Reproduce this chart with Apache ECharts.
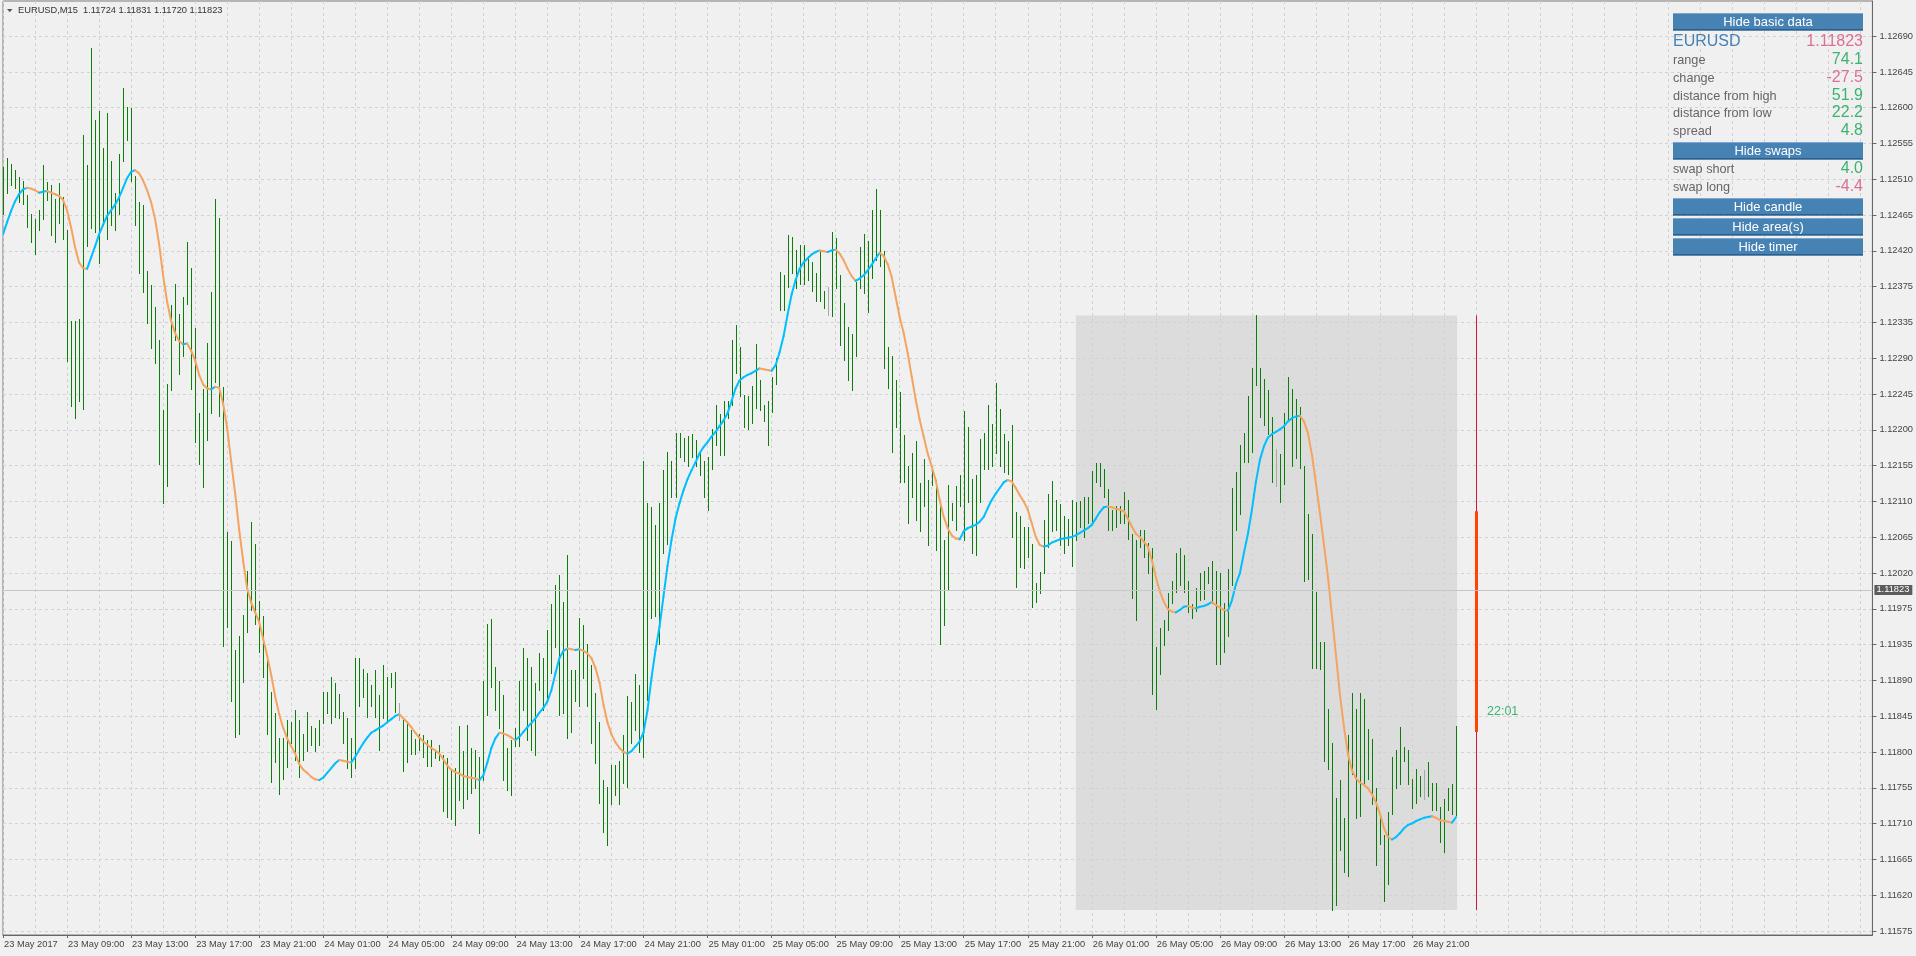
<!DOCTYPE html>
<html><head><meta charset="utf-8">
<script src="https://cdn.jsdelivr.net/npm/echarts@6/dist/echarts.min.js"></script>
<style>html,body{margin:0;padding:0;background:#f0f0f0;}#c{width:1916px;height:956px;}</style>
</head><body><div id="c"></div>
<script>
// ---------------- DATA ----------------
const titleText = 'EURUSD,M15  1.11724 1.11831 1.11720 1.11823';
const xTickLabels = ['23 May 2017','23 May 09:00','23 May 13:00','23 May 17:00','23 May 21:00','24 May 01:00','24 May 05:00','24 May 09:00','24 May 13:00','24 May 17:00','24 May 21:00','25 May 01:00','25 May 05:00','25 May 09:00','25 May 13:00','25 May 17:00','25 May 21:00','26 May 01:00','26 May 05:00','26 May 09:00','26 May 13:00','26 May 17:00','26 May 21:00'];
const yTickLabels = ['1.11575','1.11620','1.11665','1.11710','1.11755','1.11800','1.11845','1.11890','1.11935','1.11975','1.12020','1.12065','1.12110','1.12155','1.12200','1.12245','1.12290','1.12335','1.12375','1.12420','1.12465','1.12510','1.12555','1.12600','1.12645','1.12690'];

const barHigh = [
1.12527,1.12538,1.12531,1.12523,1.12514,1.12510,1.12492,1.12468,1.12462,1.12474,
1.12530,1.12508,1.12504,1.12487,1.12507,1.12489,1.12449,1.12335,1.12335,1.12338,
1.12567,1.12529,1.12675,1.12585,1.12597,1.12551,1.12594,1.12534,1.12494,1.12543,
1.12626,1.12602,1.12600,1.12516,1.12483,1.12480,1.12397,1.12380,1.12353,1.12312,
1.12224,1.12257,1.12355,1.12381,1.12344,1.12365,1.12433,1.12401,1.12326,1.12220,
1.12250,1.12308,1.12371,1.12487,1.12463,1.12253,1.12072,1.12061,1.11925,1.11942,
1.11969,1.12024,1.12084,1.12057,1.11986,1.11967,1.11918,1.11873,1.11847,1.11815,
1.11815,1.11838,1.11836,1.11850,1.11838,1.11821,1.11848,1.11830,1.11828,1.11838,
1.11873,1.11873,1.11891,1.11884,1.11870,1.11848,1.11840,1.11815,1.11915,1.11915,
1.11902,1.11896,1.11882,1.11900,1.11869,1.11906,1.11892,1.11896,1.11898,1.11859,
1.11838,1.11834,1.11825,1.11814,1.11821,1.11819,1.11813,1.11813,1.11799,1.11807,
1.11794,1.11790,1.11776,1.11778,1.11830,1.11799,1.11832,1.11803,1.11801,1.11792,
1.11886,1.11958,1.11964,1.11904,1.11886,1.11869,1.11803,1.11813,1.11828,1.11886,
1.11927,1.11915,1.11904,1.11884,1.11921,1.11915,1.11950,1.11983,1.12006,1.12019,
1.11985,1.12044,1.11900,1.11900,1.11965,1.11956,1.11933,1.11906,1.11871,1.11836,
1.11763,1.11755,1.11782,1.11782,1.11787,1.11819,1.11868,1.11860,1.11895,1.11881,
1.12160,1.12108,1.12103,1.12081,1.12108,1.12149,1.12172,1.12160,1.12196,1.12195,
1.12189,1.12192,1.12194,1.12187,1.12173,1.12160,1.12165,1.12200,1.12230,1.12219,
1.12235,1.12235,1.12311,1.12330,1.12303,1.12243,1.12241,1.12254,1.12307,1.12262,
1.12230,1.12235,1.12265,1.12289,1.12396,1.12392,1.12442,1.12440,1.12424,1.12430,
1.12430,1.12416,1.12408,1.12395,1.12424,1.12373,1.12378,1.12446,1.12438,1.12392,
1.12357,1.12327,1.12319,1.12384,1.12427,1.12443,1.12435,1.12473,1.12499,1.12474,
1.12422,1.12303,1.12292,1.12262,1.12246,1.12193,1.12154,1.12170,1.12186,1.12133,
1.12163,1.12137,1.12154,1.12137,1.12105,1.12062,1.12131,1.12108,1.12129,1.12143,
1.12223,1.12203,1.12138,1.12143,1.12188,1.12195,1.12231,1.12207,1.12258,1.12225,
1.12194,1.12186,1.12205,1.12097,1.12092,1.12079,1.12079,1.12057,1.12009,1.12022,
1.12087,1.12120,1.12136,1.12112,1.12107,1.12092,1.12088,1.12112,1.12109,1.12111,
1.12116,1.12116,1.12148,1.12158,1.12158,1.12151,1.12126,1.12100,1.12104,1.12104,
1.12122,1.12112,1.12070,1.12062,1.12075,1.12075,1.12058,1.12052,1.11929,1.11952,
1.11962,1.11996,1.12011,1.12046,1.12052,1.12043,1.12011,1.11982,1.12002,1.12021,
1.12024,1.12029,1.12036,1.12024,1.12021,1.11984,1.12026,1.12127,1.12147,1.12181,
1.12196,1.12241,1.12277,1.12342,1.12277,1.12263,1.12249,1.12216,1.12175,1.12169,
1.12221,1.12265,1.12250,1.12238,1.12228,1.12154,1.12095,1.12070,1.11997,1.11935,
1.11935,1.11852,1.11809,1.11741,1.11763,1.11716,1.11819,1.11871,1.11852,1.11871,
1.11864,1.11827,1.11814,1.11753,1.11721,1.11694,1.11723,1.11792,1.11800,1.11829,
1.11804,1.11800,1.11765,1.11777,1.11768,1.11775,1.11785,1.11760,1.11760,1.11730,
1.11740,1.11753,1.11758,1.11831];

const barLow = [
1.12469,1.12495,1.12504,1.12501,1.12483,1.12481,1.12452,1.12434,1.12419,1.12448,
1.12462,1.12486,1.12442,1.12433,1.12457,1.12437,1.12285,1.12229,1.12214,1.12235,
1.12225,1.12428,1.12451,1.12446,1.12407,1.12455,1.12437,1.12455,1.12448,1.12469,
1.12534,1.12561,1.12510,1.12455,1.12395,1.12371,1.12333,1.12301,1.12283,1.12157,
1.12108,1.12129,1.12249,1.12311,1.12269,1.12292,1.12356,1.12250,1.12184,1.12157,
1.12128,1.12187,1.12220,1.12259,1.12217,1.11930,1.11954,1.11861,1.11817,1.11820,
1.11885,1.11947,1.11975,1.11957,1.11923,1.11892,1.11821,1.11761,1.11785,1.11746,
1.11764,1.11779,1.11809,1.11788,1.11767,1.11788,1.11799,1.11807,1.11799,1.11807,
1.11834,1.11846,1.11834,1.11842,1.11840,1.11809,1.11778,1.11767,1.11778,1.11855,
1.11867,1.11842,1.11855,1.11842,1.11801,1.11840,1.11836,1.11879,1.11848,1.11838,
1.11774,1.11786,1.11796,1.11796,1.11801,1.11792,1.11780,1.11780,1.11790,1.11788,
1.11724,1.11717,1.11715,1.11707,1.11738,1.11728,1.11740,1.11747,1.11753,1.11697,
1.11763,1.11844,1.11879,1.11850,1.11828,1.11763,1.11751,1.11745,1.11805,1.11805,
1.11850,1.11813,1.11801,1.11794,1.11875,1.11850,1.11865,1.11896,1.11929,1.11844,
1.11846,1.11815,1.11823,1.11861,1.11855,1.11890,1.11855,1.11809,1.11784,1.11734,
1.11698,1.11682,1.11733,1.11744,1.11733,1.11760,1.11755,1.11809,1.11825,1.11798,
1.11792,1.11863,1.11965,1.11968,1.11933,1.12046,1.12057,1.12116,1.12116,1.12165,
1.12160,1.12154,1.12165,1.12154,1.12143,1.12116,1.12100,1.12151,1.12181,1.12168,
1.12168,1.12214,1.12230,1.12270,1.12241,1.12203,1.12200,1.12208,1.12227,1.12224,
1.12211,1.12181,1.12222,1.12257,1.12349,1.12349,1.12378,1.12395,1.12376,1.12381,
1.12381,1.12386,1.12373,1.12360,1.12360,1.12351,1.12343,1.12341,1.12376,1.12305,
1.12287,1.12262,1.12249,1.12292,1.12376,1.12370,1.12346,1.12389,1.12411,1.12403,
1.12276,1.12251,1.12172,1.12203,1.12135,1.12135,1.12083,1.12116,1.12087,1.12073,
1.12104,1.12056,1.12131,1.12050,1.11933,1.11956,1.12000,1.12087,1.12075,1.12104,
1.12062,1.12110,1.12046,1.12044,1.12110,1.12151,1.12151,1.12154,1.12170,1.12154,
1.12147,1.12145,1.12066,1.12004,1.12029,1.12027,1.12041,1.11979,1.11985,1.11996,
1.12021,1.12054,1.12073,1.12075,1.12056,1.12046,1.12056,1.12030,1.12062,1.12079,
1.12066,1.12083,1.12083,1.12135,1.12129,1.12116,1.12075,1.12075,1.12079,1.12083,
1.12083,1.12064,1.11990,1.11962,1.12054,1.12041,1.12021,1.11870,1.11852,1.11895,
1.11931,1.11950,1.11984,1.11997,1.12006,1.11997,1.11972,1.11965,1.11974,1.11987,
1.11989,1.12009,1.11984,1.11908,1.11908,1.11923,1.11943,1.12006,1.12075,1.12095,
1.12159,1.12159,1.12172,1.12255,1.12216,1.12206,1.12194,1.12135,1.12130,1.12110,
1.12132,1.12213,1.12154,1.12164,1.12152,1.12011,1.12014,1.11903,1.11903,1.11901,
1.11787,1.11777,1.11601,1.11607,1.11676,1.11649,1.11644,1.11770,1.11716,1.11718,
1.11758,1.11765,1.11733,1.11657,1.11684,1.11612,1.11634,1.11721,1.11753,1.11758,
1.11787,1.11758,1.11728,1.11735,1.11743,1.11740,1.11743,1.11726,1.11726,1.11686,
1.11674,1.11726,1.11721,1.11720];

const unchangedBars = [99, 206, 318, 355];

const maValues = [
1.12443,1.12458,1.12472,1.12484,1.12493,1.12499,1.12501,1.12500,1.12498,1.12495,
1.12496,1.12497,1.12495,1.12493,1.12491,1.12486,1.12473,1.12452,1.12427,1.12408,
1.12401,1.12400,1.12414,1.12428,1.12443,1.12455,1.12466,1.12473,1.12480,1.12489,
1.12501,1.12513,1.12521,1.12523,1.12519,1.12510,1.12498,1.12483,1.12462,1.12431,
1.12392,1.12359,1.12335,1.12320,1.12310,1.12306,1.12307,1.12298,1.12286,1.12268,
1.12256,1.12251,1.12250,1.12253,1.12252,1.12232,1.12202,1.12160,1.12120,1.12075,
1.12036,1.12002,1.11984,1.11972,1.11960,1.11939,1.11918,1.11894,1.11867,1.11845,
1.11828,1.11815,1.11805,1.11796,1.11783,
1.11776,1.11772,1.11767,1.11764,1.11763,1.11766,1.11772,1.11778,1.11784,1.11788,
1.11787,1.11786,1.11785,1.11792,1.11801,1.11809,1.11816,1.11822,1.11825,1.11828,
1.11831,1.11835,1.11839,1.11843,1.11845,1.11840,1.11835,1.11829,1.11822,1.11816,
1.11811,1.11807,1.11803,1.11800,1.11796,1.11789,1.11781,1.11776,1.11773,1.11771,
1.11768,1.11767,1.11766,1.11765,1.11763,1.11769,1.11785,1.11803,1.11815,1.11822,
1.11821,1.11819,1.11816,1.11813,1.11817,1.11823,1.11829,1.11834,1.11840,1.11847,
1.11853,1.11861,1.11875,1.11896,1.11915,1.11924,1.11927,1.11926,1.11925,1.11926,
1.11924,1.11921,1.11915,1.11903,1.11885,
1.11857,1.11835,1.11820,1.11810,1.11803,1.11798,1.11796,1.11799,1.11805,1.11811,
1.11822,1.11850,1.11890,1.11925,1.11954,1.11992,1.12030,1.12062,1.12089,1.12108,
1.12124,1.12138,1.12149,1.12159,1.12170,1.12178,1.12184,1.12191,1.12197,1.12204,
1.12211,1.12220,1.12235,1.12251,1.12261,1.12265,1.12268,1.12270,1.12273,1.12276,
1.12275,1.12274,1.12273,1.12280,1.12296,1.12316,1.12343,1.12368,1.12386,1.12400,
1.12408,1.12413,1.12418,1.12421,1.12423,1.12422,1.12421,1.12423,1.12424,1.12419,
1.12411,1.12400,1.12391,1.12385,1.12388,1.12392,1.12398,1.12405,1.12413,1.12420,
1.12416,1.12406,1.12390,1.12365,1.12340,
1.12320,1.12295,1.12266,1.12237,1.12212,1.12191,1.12170,1.12154,1.12137,1.12112,
1.12091,1.12077,1.12068,1.12064,1.12063,1.12073,1.12077,1.12079,1.12081,1.12085,
1.12091,1.12102,1.12112,1.12120,1.12127,1.12134,1.12137,1.12135,1.12127,1.12118,
1.12110,1.12100,1.12083,1.12066,1.12056,1.12054,1.12055,1.12059,1.12061,1.12063,
1.12064,1.12065,1.12066,1.12068,1.12071,1.12074,1.12077,1.12081,1.12089,1.12097,
1.12103,1.12104,1.12103,1.12101,1.12100,1.12098,1.12089,1.12079,1.12070,1.12066,
1.12060,1.12054,1.12037,1.12016,1.11998,1.11985,1.11976,1.11973,1.11972,1.11975,
1.11979,1.11980,1.11978,1.11977,1.11979,1.11980,1.11982,1.11985,1.11981,1.11978,
1.11975,1.11974,1.11987,1.12007,1.12021,1.12046,1.12070,1.12100,1.12135,1.12162,
1.12179,1.12190,1.12194,1.12197,1.12200,1.12204,1.12210,1.12214,1.12216,1.12217,
1.12210,1.12195,1.12168,1.12132,1.12095,1.12056,1.12016,1.11967,1.11918,1.11869,
1.11829,1.11795,1.11775,1.11765,1.11760,1.11757,1.11753,1.11745,1.11735,1.11721,
1.11703,1.11692,1.11689,1.11692,1.11697,1.11703,1.11707,1.11709,1.11712,1.11714,
1.11716,1.11717,1.11718,1.11716,1.11713,1.11712,1.11711,1.11710,1.11717];

const bidPrice = 1.11823;
const dayCandle = [368, 1.12098, 1.11823, 1.11601, 1.12342]; // [slot, open, close, low, high]
const sessionBox = [268, 363, 1.12342, 1.11601];             // [from slot, to slot, high, low]
const timerText = '22:01';
const panelButtons = ['Hide basic data', 'Hide swaps', 'Hide candle', 'Hide area(s)', 'Hide timer'];
const panelLabels = ['EURUSD', 'range', 'change', 'distance from high', 'distance from low', 'spread', 'swap short', 'swap long'];
const panelValues = ['1.11823', '74.1', '-27.5', '51.9', '22.2', '4.8', '4.0', '-4.4'];

// ---------------- LAYOUT / STYLE ----------------
const FONT = 'Liberation Sans';
const slotCount = 468;
const barCount = barHigh.length;
const categories = Array.from({length: slotCount}, (_, i) => String(i));
const yTickBase = 1.11575, yTickStep = 0.000446;
const yTickValues = yTickLabels.map((_, k) => yTickBase + k * yTickStep);
const GREEN = '#0a7d0a', GRAYBAR = '#a8a8a8', BLUE = '#00bfff', ORANGE = '#f4a460';
const POS = '#3cb371', NEG = '#db7093';
const unchanged = new Set(unchangedBars);
const gridColor = '#d2d2d2';
const GZ = 100;

const barData = barHigh.map((h, i) => [i, h, barLow[i]]);
const maSegs = [];
let rising = true;
for (let i = 0; i < maValues.length - 1; i++) {
  if (maValues[i + 1] > maValues[i]) rising = true;
  else if (maValues[i + 1] < maValues[i]) rising = false;
  maSegs.push([i, maValues[i], maValues[i + 1], rising ? 1 : 0]);
}

const chart = echarts.init(document.getElementById('c'));

const graphics = [];
graphics.push({type: 'polygon', z: GZ, shape: {points: [[7, 9], [12.5, 9], [9.75, 12.2]]}, style: {fill: '#555'}});
graphics.push({type: 'text', z: GZ, x: 18, y: 10.5, style: {text: titleText, fill: '#333', font: '9.3px ' + FONT, verticalAlign: 'middle'}});
const btnY = [13, 142, 198, 218, 238];
panelButtons.forEach((t, k) => {
  const y = btnY[k];
  graphics.push({type: 'rect', z: GZ, shape: {x: 1673, y: y, width: 190, height: 17.5}, style: {fill: '#4682b4'}});
  graphics.push({type: 'rect', z: GZ + 1, shape: {x: 1673, y: y, width: 190, height: 1}, style: {fill: '#7aa6d0'}});
  graphics.push({type: 'rect', z: GZ + 1, shape: {x: 1673, y: y + 16, width: 190, height: 1.5}, style: {fill: '#2c5f8c'}});
  graphics.push({type: 'text', z: GZ + 2, x: 1768, y: y + 9, style: {text: t, fill: '#fff', font: '13px ' + FONT, align: 'center', verticalAlign: 'middle'}});
});
const rowY = [42, 60, 78, 96, 113, 131, 169, 187];
panelLabels.forEach((t, k) => {
  const first = k === 0;
  graphics.push({type: 'text', z: GZ, x: 1673, y: rowY[k], style: {text: t, fill: first ? '#4682b4' : '#666', font: (first ? '16px ' : '12.7px ') + FONT, verticalAlign: 'middle'}});
  const v = panelValues[k];
  const col = v.charAt(0) === '-' || first ? NEG : POS;
  graphics.push({type: 'text', z: GZ, x: 1863, y: rowY[k], style: {text: v, fill: col, font: '16px ' + FONT, align: 'right', verticalAlign: 'middle'}});
});
graphics.push({type: 'text', z: GZ, x: 1487, y: 712, style: {text: timerText, fill: POS, font: '12.5px ' + FONT, verticalAlign: 'middle'}});

const option = {
  backgroundColor: '#f0f0f0',
  animation: false,
  grid: {left: 3, right: 43, top: 1, bottom: 21, show: true, borderColor: '#7a7a7a', borderWidth: 1, backgroundColor: 'transparent'},
  xAxis: {
    type: 'category', data: categories, boundaryGap: false,
    axisLine: {lineStyle: {color: '#666', width: 1}},
    axisTick: {show: true, length: 3, interval: (i) => i % 16 === 0 && i < barCount, lineStyle: {color: '#666'}},
    axisLabel: {
      interval: (i) => i % 16 === 0 && i < barCount,
      formatter: (v) => xTickLabels[parseInt(v, 10) / 16] || '',
      align: 'left', margin: 5, fontSize: 9.3, fontFamily: FONT, color: '#444', padding: [0, 0, 0, 1]
    },
    splitLine: {show: true, interval: (i) => i % 8 === 0, lineStyle: {color: gridColor, type: [3, 3], width: 1}}
  },
  yAxis: {
    type: 'value', position: 'right', min: 1.11570, max: 1.127338, scale: true,
    axisLine: {show: true, lineStyle: {color: '#666', width: 1}},
    axisTick: {show: true, length: 4, customValues: yTickValues, lineStyle: {color: '#666'}},
    axisLabel: {
      customValues: yTickValues, margin: 7, fontSize: 9.3, fontFamily: FONT, color: '#444', align: 'left',
      formatter: (v) => yTickLabels[Math.round((v - yTickBase) / yTickStep)] || ''
    },
    splitLine: {show: true, lineStyle: {color: gridColor, type: [3, 3], width: 1}}
  },
  graphic: {elements: graphics},
  series: [
    {
      type: 'custom', name: 'area', z: -1, silent: true, clip: true,
      data: [sessionBox],
      encode: {x: [0, 1], y: [2, 3]},
      renderItem: (params, api) => {
        const p1 = api.coord([api.value(0), api.value(2)]);
        const p2 = api.coord([api.value(1), api.value(3)]);
        return {type: 'rect', shape: {x: p1[0], y: p1[1], width: p2[0] - p1[0] + 1, height: p2[1] - p1[1]}, style: {fill: '#dcdcdc'}};
      }
    },
    {
      type: 'line', name: 'bid', data: [], z: 1, silent: true,
      markLine: {
        silent: true, symbol: ['none', 'none'], animation: false,
        data: [{yAxis: bidPrice}],
        lineStyle: {color: '#c6c6c6', type: 'solid', width: 1},
        label: {show: true, position: 'end', distance: 2, formatter: () => bidPrice.toFixed(5),
          color: '#fff', backgroundColor: '#5c5c5c', padding: [1, 3, 0, 2], fontSize: 9.3, fontFamily: FONT}
      }
    },
    {
      type: 'custom', name: 'bars', z: 2, silent: true, clip: true,
      data: barData, encode: {x: 0, y: [1, 2]},
      renderItem: (params, api) => {
        const i = api.value(0);
        const t = api.coord([i, api.value(1)]);
        const b = api.coord([i, api.value(2)]);
        const x = Math.round(t[0]) + 0.5;
        return {type: 'line', shape: {x1: x, y1: Math.round(t[1]), x2: x, y2: Math.round(b[1]) + 1},
          style: {stroke: unchanged.has(i) ? GRAYBAR : GREEN, lineWidth: 1}};
      }
    },
    {
      type: 'custom', name: 'ma', z: 3, silent: true, clip: true,
      data: maSegs, encode: {x: 0, y: [1, 2]},
      renderItem: (params, api) => {
        const i = api.value(0);
        const a = api.coord([i, api.value(1)]);
        const b = api.coord([i + 1, api.value(2)]);
        return {type: 'line', shape: {x1: a[0], y1: a[1], x2: b[0], y2: b[1]},
          style: {stroke: api.value(3) ? BLUE : ORANGE, lineWidth: 2, lineCap: 'round'}};
      }
    },
    {
      type: 'custom', name: 'daily', z: 3, silent: true, clip: true,
      data: [dayCandle], encode: {x: 0, y: [1, 2, 3, 4]},
      renderItem: (params, api) => {
        const s = api.value(0);
        const o = api.coord([s, api.value(1)]);
        const c = api.coord([s, api.value(2)]);
        const l = api.coord([s, api.value(3)]);
        const h = api.coord([s, api.value(4)]);
        const x = Math.round(o[0]) + 0.5;
        return {type: 'group', children: [
          {type: 'line', shape: {x1: x, y1: h[1], x2: x, y2: l[1]}, style: {stroke: '#d0163c', lineWidth: 1}},
          {type: 'rect', shape: {x: x - 1.5, y: Math.min(o[1], c[1]), width: 3, height: Math.abs(c[1] - o[1])}, style: {fill: '#ff4500'}}
        ]};
      }
    }
  ]
};
chart.setOption(option);
</script>
</body></html>
